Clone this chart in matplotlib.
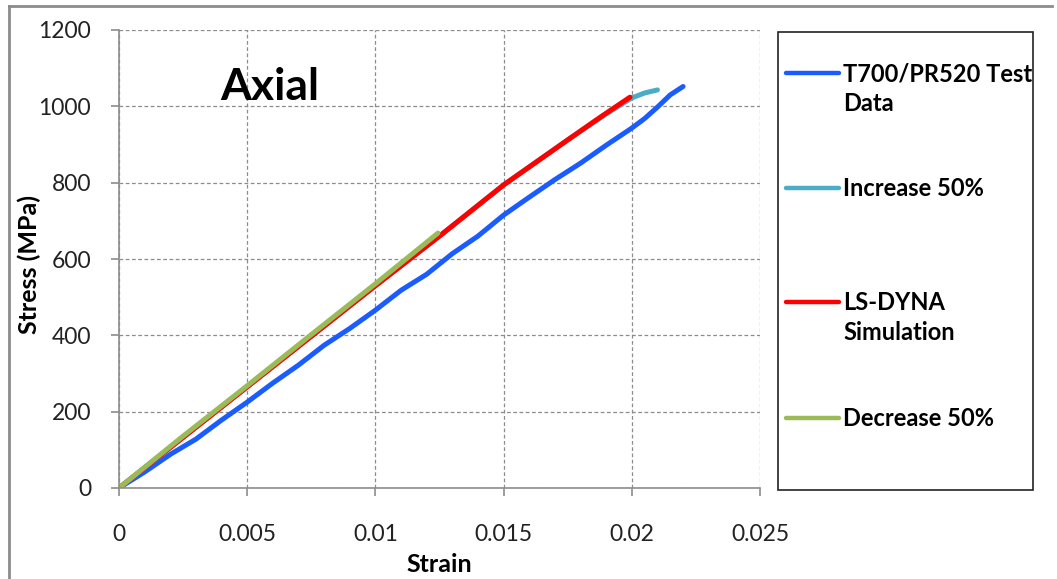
import matplotlib
matplotlib.use("Agg")
from matplotlib import pyplot as plt
from matplotlib.lines import Line2D
from matplotlib.patches import Rectangle

plt.rcParams['font.family'] = ['Lato', 'DejaVu Sans']

# test data
test_strain = [0, 0.001, 0.002, 0.003, 0.004, 0.005, 0.006, 0.007, 0.008, 0.009, 0.010,
               0.011, 0.012, 0.013, 0.014, 0.015, 0.016, 0.017, 0.018, 0.019, 0.020,
               0.0205, 0.021, 0.0215, 0.022]
test_stress = [0, 42, 88, 128, 178, 225, 275, 322, 374, 418, 466,
               518, 560, 614, 660, 715, 762, 808, 851, 898, 943,
               968, 998, 1030, 1052]

inc_strain = [0, 0.005, 0.010, 0.0125, 0.015, 0.0175, 0.019, 0.020, 0.0205, 0.021]
inc_stress = [0, 265, 530, 660, 794, 912, 980, 1022, 1035, 1043]

sim_strain = [0, 0.005, 0.010, 0.0125, 0.015, 0.0175, 0.0185, 0.019, 0.01993]
sim_stress = [0, 265, 530, 660, 794, 912, 959, 982, 1024]

dec_strain = [0, 0.0025, 0.005, 0.0075, 0.010, 0.01244]
dec_stress = [0, 136, 268, 402, 535, 668]

labels = ['T700/PR520 Test\nData', 'Increase 50%', 'LS-DYNA\nSimulation', 'Decrease 50%']
colors = ['#1a5cff', '#4bacc6', '#ff0000', '#9bbb59']

W, H = 1057, 579
fig = plt.figure(figsize=(W / 100, H / 100), dpi=100)
ax = fig.add_axes([119 / W, 1 - 488 / H, (760 - 119) / W, (488 - 30) / H])

ax.plot(test_strain, test_stress, color=colors[0], lw=3.6, solid_capstyle='round')
ax.plot(inc_strain, inc_stress, color=colors[1], lw=3.6, solid_capstyle='round')
ax.plot(sim_strain, sim_stress, color=colors[2], lw=3.6, solid_capstyle='round')
ax.plot(dec_strain, dec_stress, color=colors[3], lw=3.6, solid_capstyle='round')

ax.set_xlim(0, 0.025)
ax.set_ylim(0, 1200)
ax.set_xticks([0, 0.005, 0.01, 0.015, 0.02, 0.025])
ax.set_xticklabels(['0', '0.005', '0.01', '0.015', '0.02', '0.025'])
ax.set_yticks(range(0, 1201, 200))
ax.grid(True, linestyle=(0, (3, 2)), color='#8c8c8c', lw=0.9)
ax.set_axisbelow(True)
for s in ['top', 'right']:
    ax.spines[s].set_visible(False)
for s in ['left', 'bottom']:
    ax.spines[s].set_color('#8c8c8c')
    ax.spines[s].set_linewidth(1.2)
ax.tick_params(colors='#8c8c8c', labelcolor='#222222', labelsize=16.5, length=6, width=1.2)
ax.tick_params(axis='x', pad=20)
ax.tick_params(axis='y', pad=14)

ax.set_xlabel('Strain', fontsize=18, fontweight='bold', labelpad=6)
ax.set_ylabel('Stress (MPa)', fontsize=18, fontweight='bold')
ax.yaxis.set_label_coords(-0.121, 0.487)
ax.text(0.235, 0.875, 'Axial', transform=ax.transAxes, fontsize=32, fontweight='bold',
        ha='center', va='center')

# outer chart border
fig.add_artist(Line2D([9 / W, 9 / W], [0, 1 - 6 / H], transform=fig.transFigure,
                      color='#8c8c8c', lw=2))
fig.add_artist(Line2D([9 / W, 1052 / W], [1 - 6 / H, 1 - 6 / H], transform=fig.transFigure,
                      color='#8c8c8c', lw=2))

# legend box
fig.add_artist(Rectangle((778 / W, 1 - 490 / H), (1033 - 778) / W, (490 - 32) / H,
                         transform=fig.transFigure, fill=False, edgecolor='#222222', lw=1.2))
entry_y = [73, 188, 302, 418]
for lab, col, y in zip(labels, colors, entry_y):
    fy = 1 - y / H
    fig.add_artist(Line2D([786 / W, 839 / W], [fy, fy], transform=fig.transFigure,
                          color=col, lw=3.2, solid_capstyle='round'))
    for i, part in enumerate(lab.split('\n')):
        fig.text(843 / W, 1 - (y + 8 + 30 * i) / H, part, fontsize=17, fontweight='bold',
                 va='baseline', ha='left', transform=fig.transFigure)

fig.savefig('out.png', dpi=100)
